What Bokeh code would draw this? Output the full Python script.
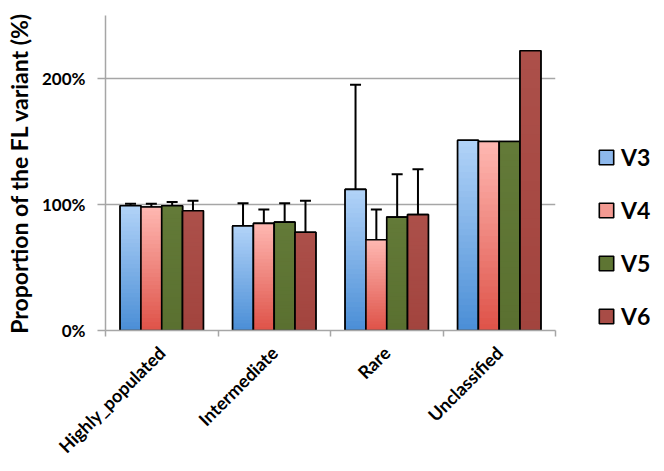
from bokeh.plotting import figure
from bokeh.models import (Range1d, FixedTicker, PrintfTickFormatter, Legend, LegendItem,
                          ColumnDataSource, Whisker, TeeHead)
from bokeh.embed import file_html
from bokeh.resources import INLINE
import math

categories = ["Highly_populated", "Intermediate", "Rare", "Unclassified"]
series = ["V3", "V4", "V5", "V6"]
V3 = [99, 83, 112, 151]
V4 = [98, 85, 72, 150]
V5 = [99, 86, 90, 150]
V6 = [95, 78, 92, 222]
V3_err = [1.5, 18, 83, 0]
V4_err = [2.5, 11, 24, 0]
V5_err = [3, 15, 34, 0]
V6_err = [8, 25, 36, 0]
y_ticks = [0, 100, 200]

values = [V3, V4, V5, V6]
errors = [V3_err, V4_err, V5_err, V6_err]
# (bottom colour, top colour) for the gradient fill of each series
grad = [((0x4a, 0x8e, 0xd6), (0xb2, 0xd3, 0xf8)),
        ((0xde, 0x52, 0x48), (0xff, 0xb8, 0xb2)),
        ((0x5a, 0x70, 0x30), (0x63, 0x7a, 0x38)),
        ((0xa2, 0x44, 0x3e), (0xac, 0x50, 0x4a))]
legend_colors = ["#8db8ec", "#f39a92", "#5e7533", "#a84c46"]

FONT = "Lato"
GREY = "#a6a6a6"

p = figure(frame_width=450, frame_height=315, output_backend="svg", toolbar_location=None,
           x_range=Range1d(0, 4), y_range=Range1d(0, 250),
           min_border_left=105, min_border_top=15, min_border_right=0, min_border_bottom=0)
p.outline_line_color = None
p.background_fill_color = "white"

bw = 0.185
N = 30
items = []
for j, (vals, errs) in enumerate(zip(values, errors)):
    bx = [i + 0.5 + (j - 1.5) * bw for i in range(len(vals))]
    # base bars (solid colour) also serve as the legend glyphs
    base = p.vbar(x=bx, top=vals, width=bw, fill_color=legend_colors[j], line_color="black",
                  line_width=1.6)
    items.append(LegendItem(label=series[j], renderers=[base]))
    xs, tops, bots, cols = [], [], [], []
    (r0, g0, b0), (r1, g1, b1) = grad[j]
    for i, v in enumerate(vals):
        for k in range(N):
            t = (k + 0.5) / N
            xs.append(bx[i])
            bots.append(v * k / N)
            tops.append(v)  # each slice reaches the bar top; higher slices overlay lower ones
            cols.append("#%02x%02x%02x" % (round(r0 + (r1 - r0) * t), round(g0 + (g1 - g0) * t),
                                           round(b0 + (b1 - b0) * t)))
    p.vbar(x=xs, top=tops, bottom=bots, width=bw, fill_color=cols, line_color=None)
    p.vbar(x=bx, top=vals, width=bw, fill_color=None, line_color="black", line_width=1.6)

for j, (vals, errs) in enumerate(zip(values, errors)):
    ex, up, lo = [], [], []
    for i, (v, e) in enumerate(zip(vals, errs)):
        if e > 0:
            ex.append(i + 0.5 + (j - 1.5) * bw)
            up.append(v + e)
            lo.append(v - e)
    src = ColumnDataSource(dict(x=ex, upper=up, lower=lo))
    w = Whisker(base="x", upper="upper", lower="lower", source=src, dimension="height",
                line_color="black", line_width=2,
                upper_head=TeeHead(size=11, line_color="black", line_width=2),
                lower_head=TeeHead(size=11, line_color="black", line_width=2))
    p.add_layout(w)

legend = Legend(items=items, location=(42, 0), padding=0, margin=0, spacing=25,
                glyph_width=18, glyph_height=18, label_height=26, label_standoff=6,
                label_text_font=FONT, label_text_font_style="bold", label_text_font_size="23px",
                label_text_color="black",
                border_line_color=None, background_fill_alpha=0)
p.add_layout(legend, "right")

# y axis
p.yaxis.ticker = FixedTicker(ticks=y_ticks)
p.yaxis.formatter = PrintfTickFormatter(format="%d%%")
p.yaxis.axis_label = "Proportion of the FL variant (%)"
p.yaxis.axis_label_text_font = FONT
p.yaxis.axis_label_text_font_style = "bold"
p.yaxis.axis_label_text_font_size = "23px"
p.yaxis.axis_label_text_color = "black"
p.yaxis.axis_label_standoff = 6
p.yaxis.major_label_text_font = FONT
p.yaxis.major_label_text_font_style = "bold"
p.yaxis.major_label_text_font_size = "17px"
p.yaxis.major_label_text_color = "black"
p.yaxis.major_label_standoff = 12
p.yaxis.axis_line_color = GREY
p.yaxis.axis_line_width = 1.5
p.yaxis.major_tick_line_color = GREY
p.yaxis.major_tick_line_width = 1.5
p.yaxis.major_tick_out = 8
p.yaxis.major_tick_in = 0
p.yaxis.minor_tick_line_color = None

# x axis: labels at category centres, ticks at boundaries
centers = [i + 0.5 for i in range(len(categories))]
p.xaxis.ticker = FixedTicker(ticks=centers, minor_ticks=list(range(len(categories) + 1)))
p.xaxis.major_label_overrides = {c: lab for c, lab in zip(centers, categories)}
p.xaxis.major_label_orientation = math.pi / 4
p.xaxis.major_label_text_font = FONT
p.xaxis.major_label_text_font_style = "bold"
p.xaxis.major_label_text_font_size = "18px"
p.xaxis.major_label_text_color = "black"
p.xaxis.major_label_standoff = 13
p.xaxis.major_tick_line_color = None
p.xaxis.minor_tick_line_color = GREY
p.xaxis.minor_tick_line_width = 1.5
p.xaxis.minor_tick_out = 6
p.xaxis.minor_tick_in = 0
p.xaxis.axis_line_color = GREY
p.xaxis.axis_line_width = 1.5

p.xgrid.grid_line_color = None
p.ygrid.ticker = FixedTicker(ticks=y_ticks)
p.ygrid.grid_line_color = GREY
p.ygrid.grid_line_width = 1.5

open("out.html", "w").write(file_html(p, INLINE))
